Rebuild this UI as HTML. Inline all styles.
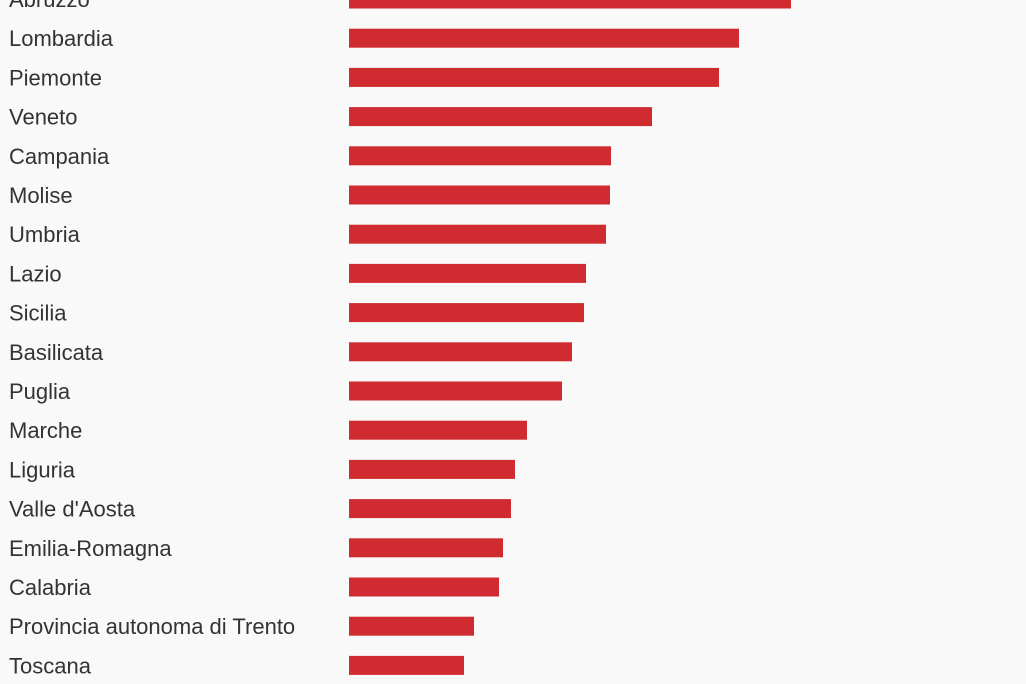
<!DOCTYPE html>
<html>
<head>
<meta charset="utf-8">
<style>
  html,body{margin:0;padding:0;background:#f9f9f9;}
  body{width:1026px;height:684px;overflow:hidden;}
  svg{display:block;font-family:"Liberation Sans",Arial,sans-serif;}
</style>
</head>
<body>
<svg id="chart" width="1026" height="684" viewBox="0 0 1026 684"></svg>
<script>
const categories = ["Abruzzo","Lombardia","Piemonte","Veneto","Campania","Molise","Umbria","Lazio","Sicilia","Basilicata","Puglia","Marche","Liguria","Valle d'Aosta","Emilia-Romagna","Calabria","Provincia autonoma di Trento","Toscana"];
const values = [442,390,370,303,262,261,257,237,235,223,213,178,166,162,154,150,125,115];

const svgNS = "http://www.w3.org/2000/svg";
const svg = document.getElementById('chart');
const x0 = 349, pxPerUnit = 1;
const yStart = -1, rowStep = 39.2, barH = 19;
function xScale(v){ return x0 + v * pxPerUnit; }
function yScale(i){ return yStart + i * rowStep; }

categories.forEach((c, i) => {
  const cy = yScale(i);
  const t = document.createElementNS(svgNS, 'text');
  
  
  t.setAttribute('x', 9);
  t.setAttribute('y', cy + 8);
  t.setAttribute('font-size', '22');
  t.setAttribute('fill', '#333');
  t.textContent = c;
  svg.appendChild(t);

  const r = document.createElementNS(svgNS, 'rect');
  
  
  r.setAttribute('x', x0);
  r.setAttribute('y', cy - barH / 2);
  r.setAttribute('width', xScale(values[i]) - x0);
  r.setAttribute('height', barH);
  r.setAttribute('fill', '#d02b31');
  svg.appendChild(r);
});
</script>
</body>
</html>
